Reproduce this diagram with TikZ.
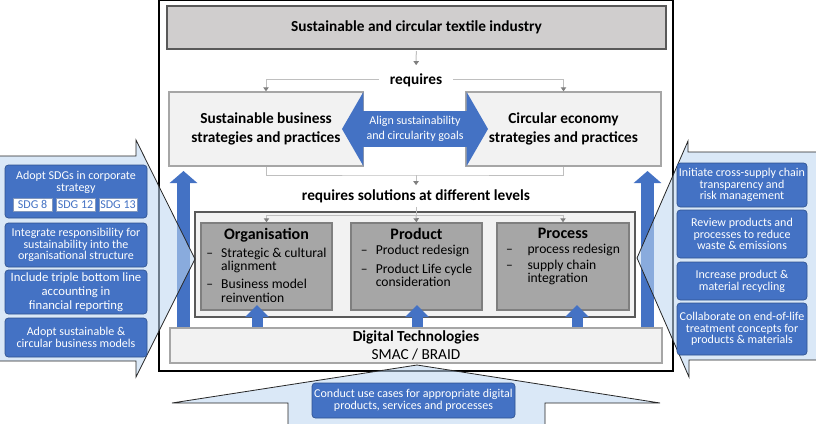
\documentclass[tikz,border=0pt]{standalone}
\usepackage{fontspec}
\setmainfont{Carlito}
\usepackage{tikz}
\definecolor{officeblue}{RGB}{68,114,196}
\definecolor{darkblue}{RGB}{47,82,143}
\definecolor{calloutblue}{RGB}{190,215,241}
\definecolor{lightpanel}{RGB}{242,242,242}
\definecolor{midgray}{RGB}{166,166,166}
\definecolor{levelgray}{RGB}{166,166,166}
\definecolor{topgray}{RGB}{208,206,206}
\definecolor{edgegray}{RGB}{127,127,127}
\definecolor{darkgray}{RGB}{89,89,89}
\usetikzlibrary{shapes.arrows, arrows.meta, calc}
\newcommand{\lvbox}[3][6pt]{\parbox[c][57pt][t]{92pt}{\centering{\fontsize{12}{14}\selectfont\bfseries #2\par}\vspace{3pt}{\fontsize{10.2}{10}\selectfont\begin{tabular}{@{}l@{\hspace{#1}}l@{}}#3\end{tabular}\par}}}

\begin{document}
\begin{tikzpicture}[x=0.75pt, y=-0.75pt,
    panel/.style={draw=#1, line width=1pt, fill=lightpanel, align=center,
                  font=\fontsize{11.5}{13.8}\selectfont\bfseries},
    lvlbox/.style={draw=edgegray, line width=1.1pt, fill=levelgray,
                   minimum width=98.25pt, minimum height=65.25pt, inner sep=3pt},
    gline/.style={draw=gray!50, line width=0.75pt},
    conn/.style={gline, -{Triangle[width=4pt, length=3pt, color=edgegray]}},
    bigarrow/.style={draw=officeblue, line width=9.75pt, -{Triangle[width=20.25pt, length=9pt]}},
    smallarrow/.style={draw=officeblue, line width=8.25pt, -{Triangle[width=17.25pt, length=9pt]}},
    calloutshape/.style={draw=black!85, line width=0.6pt, fill=calloutblue, fill opacity=0.57},
    cbox/.style={draw=darkblue, line width=0.5pt, fill=officeblue, rounded corners=2.5pt, text=white,
                 align=center, font=\fontsize{9}{8.8}\selectfont, inner sep=1pt},
    chip/.style={draw=darkblue!60, line width=0.4pt, fill=white, text=officeblue,
                 font=\fontsize{9}{9}\selectfont, minimum height=9.75pt, inner sep=0.5pt}
]
    \useasboundingbox (0,0) rectangle (816,424);
    \draw[line width=0.8pt] (159,0.5) rectangle (673,371);

    \node[fill=topgray, draw=darkgray, line width=1.2pt, minimum width=374.25pt, minimum height=32.25pt,
          font=\fontsize{11.5}{13.8}\selectfont\bfseries] (industry) at (416.5,27.5)
          {Sustainable and circular textile industry};
    \node[fill=white, inner xsep=8.25pt, inner ysep=3pt, font=\fontsize{11.5}{13.8}\selectfont\bfseries]
          (req) at (416,80) {requires};

    \node[panel=midgray, minimum width=145.5pt, minimum height=55.5pt] (sbs) at (266,129)
          {Sustainable business\\strategies and practices};
    \node[panel=midgray, minimum width=146.25pt, minimum height=55.5pt] (ces) at (563.5,129)
          {Circular economy\\strategies and practices};
    \node[double arrow, fill=officeblue, text=white, minimum height=109.5pt, minimum width=55.5pt,
          double arrow head extend=14.25pt, double arrow tip angle=120, inner xsep=1pt, inner ysep=3.75pt,
          align=center, font=\fontsize{9}{10.75}\selectfont] (align) at (415,129)
          {Align sustainability\\and circularity goals};

    \draw[conn, shorten <=1pt, shorten >=3pt] (industry) -- (req);
    \draw[conn] (req.west) -| (sbs.north);
    \draw[conn] (req.east) -| (ces.north);

    \coordinate (bmid) at (416,175);
    \draw[gline] (sbs.south) |- (bmid) -| (ces.south);
    \node[inner sep=3pt, font=\fontsize{11.5}{13.8}\selectfont\bfseries] (lev) at (416,196)
          {requires solutions at different levels};
    \draw[conn] (bmid) -- (lev);

    \node[draw=darkgray, line width=0.9pt, fill=lightpanel, minimum width=330pt, minimum height=78.75pt]
          (lvframe) at (415,264.5) {};
    \node[lvlbox] (org) at (266.5,266.5) {\lvbox{Organisation}{\textendash & Strategic \& cultural\\ & alignment\\[3.5pt]
          \textendash & Business model\\ & reinvention}};
    \node[lvlbox] (prd) at (416.5,266.5) {\lvbox{Product}{\textendash & Product redesign\\[4pt]
          \textendash & Product Life cycle\\ & consideration}};
    \node[lvlbox, minimum width=99pt] (prc) at (563,266.5) {\lvbox[11pt]{Process}{\textendash & process redesign\\[1.5pt]
          \textendash & supply chain\\ & integration}};

    \coordinate (lmid) at (416,215);
    \draw[gline] (lev) -- (lmid);
    \draw[conn] (lmid) -| (org.north);
    \draw[conn] (lmid) -- (prd.north);
    \draw[conn] (lmid) -| (prc.north);

    \node[panel=midgray, line width=1.3pt, minimum width=369pt, minimum height=26.25pt, inner sep=1pt,
          font=\fontsize{11.5}{13.5}\selectfont\bfseries] (dig) at (416,345.5)
          {Digital Technologies\\{\mdseries SMAC / BRAID}};

    \coordinate (la) at (183.5,171);
    \coordinate (ra) at (647.5,171);
    \draw[bigarrow] (dig.north -| la) -- (la);
    \draw[bigarrow] (dig.north -| ra) -- (ra);
    \foreach \x in {257,417,577}
        \draw[smallarrow] (dig.north -| \x,0) -- (\x,305);

    % callouts
    \draw[calloutshape] (-5,156) -- (136,156) -- (136,140) -- (195,259) -- (136,377) -- (136,361) -- (-5,361) -- cycle;
    \draw[calloutshape] (821,152) -- (688,152) -- (688,141) -- (637,258) -- (689,377) -- (689,360) -- (821,360) -- cycle;
    \draw[calloutshape] (288,430) -- (288,403) -- (172,403) -- (417,365) -- (660,403) -- (545,403) -- (545,430) -- cycle;

    \node[cbox, minimum width=106.5pt, minimum height=39.75pt] (sdg) at (76,191.5) {};
    \node[text=white, align=center, font=\fontsize{9}{8.8}\selectfont, inner sep=0pt] (sdgtext) at (76,182.5)
          {Adopt SDGs in corporate\\strategy};
    \node[chip, minimum width=29.25pt] (sdg8) at (32.5,204.5) {SDG 8};
    \node[chip, minimum width=29.25pt] (sdg12) at (75.5,204.5) {SDG 12};
    \node[chip, minimum width=28.5pt] (sdg13) at (118,204.5) {SDG 13};
    \node[cbox, minimum width=106.5pt, minimum height=33pt] (resp) at (76,245)
          {Integrate responsibility for\\sustainability into the\\organisational structure};
    \node[cbox, minimum width=106.5pt, minimum height=33pt, font=\fontsize{9.5}{10.5}\selectfont] (tbl) at (76,292)
          {Include triple bottom line\\accounting in\\financial reporting};
    \node[cbox, minimum width=106.5pt, minimum height=29.25pt] (models) at (76,337.5)
          {Adopt sustainable \&\\circular business models};

    \node[cbox, minimum width=97.5pt, minimum height=33pt] (trans) at (742,185)
          {Initiate cross-supply chain\\transparency and\\risk management};
    \node[cbox, minimum width=97.5pt, minimum height=36pt] (waste) at (742,234)
          {Review products and\\processes to reduce\\waste \& emissions};
    \node[cbox, minimum width=97.5pt, minimum height=28.5pt] (recyc) at (742,281)
          {Increase product \&\\material recycling};
    \node[cbox, minimum width=97.5pt, minimum height=39pt] (eol) at (742,329)
          {Collaborate on end-of-life\\treatment concepts for\\products \& materials};

    \node[cbox, minimum width=152.25pt, minimum height=26.25pt] (usecase) at (413.5,400.5)
          {Conduct use cases for appropriate digital\\products, services and processes};
\end{tikzpicture}
\end{document}
